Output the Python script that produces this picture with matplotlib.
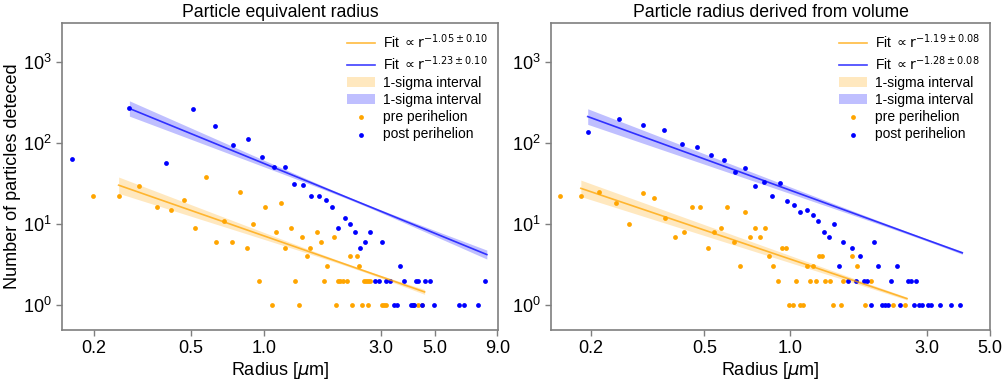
import numpy as np
import matplotlib
matplotlib.use("Agg")
import matplotlib.pyplot as plt
from matplotlib.ticker import FixedLocator, FixedFormatter, NullLocator, LogLocator

plt.rcParams['font.family'] = ['Liberation Sans', 'DejaVu Sans']
plt.rcParams['mathtext.fontset'] = 'dejavusans'

# --- panel 1: equivalent radius ---
eq_pre_r = [0.199, 0.253, 0.307, 0.362, 0.416, 0.47, 0.522, 0.576, 0.631, 0.685, 0.738,
            0.793, 0.847, 0.902, 0.954, 1.01, 1.07, 1.12, 1.17, 1.22, 1.28, 1.33, 1.39,
            1.43, 1.49, 1.54, 1.65, 1.70, 1.76, 1.81, 1.92, 1.97, 2.01, 2.05, 2.09, 2.19,
            2.24, 2.29, 2.40, 2.45, 2.50, 2.55, 2.60, 2.65, 2.66, 2.72, 3.02, 3.08, 3.14,
            4.05, 4.24, 4.44]
eq_pre_n = [22, 22, 29, 16, 15, 20, 9, 38, 6, 11, 6,
            25, 5, 10, 2, 16, 1, 8, 18, 5, 9, 2, 1,
            7, 4, 5, 8, 6, 2, 3, 7, 1, 2, 2, 2, 2,
            4, 1, 4, 3, 1, 2, 2, 2, 1, 2, 1, 1, 1,
            1, 1, 1]
eq_post_r = [0.163, 0.28, 0.397, 0.512, 0.627, 0.745, 0.86, 0.975, 1.095, 1.21, 1.32,
             1.44, 1.55, 1.67, 1.79, 1.90, 2.01, 2.13, 2.24, 2.36, 2.47, 2.58, 2.70,
             2.83, 2.95, 3.04, 3.16, 3.28, 3.39, 3.50, 3.61, 3.74, 3.97, 4.05, 4.11,
             4.19, 4.26, 4.43, 4.53, 4.76, 4.97, 6.25, 6.59, 7.47, 8.03]
eq_post_n = [63, 265, 57, 260, 159, 94, 110, 67, 50, 50, 31,
             30, 22, 22, 20, 16, 9, 12, 10, 8, 5, 6, 8,
             2, 2, 6, 2, 2, 1, 1, 3, 2, 1, 1, 1,
             2, 2, 1, 2, 2, 1, 1, 1, 1, 2]

# --- panel 2: radius from volume ---
vol_pre_r = [0.156, 0.185, 0.214, 0.244, 0.273, 0.305, 0.334, 0.364, 0.394, 0.424, 0.453,
             0.483, 0.514, 0.542, 0.573, 0.602, 0.632, 0.664, 0.692, 0.723, 0.753, 0.784,
             0.813, 0.842, 0.872, 0.903, 0.932, 0.963, 0.99, 1.02, 1.05, 1.08, 1.11, 1.14,
             1.17, 1.20, 1.23, 1.26, 1.29, 1.32, 1.38, 1.41, 1.50, 1.53, 1.65, 1.71, 1.83,
             1.92, 2.29, 2.52]
vol_pre_n = [22, 22, 25, 18, 10, 24, 21, 12, 7, 8, 16,
             16, 5, 8, 9, 16, 6, 3, 14, 7, 9, 7,
             9, 4, 3, 2, 5, 5, 1, 1, 2, 1, 1, 3,
             2, 3, 2, 4, 4, 2, 2, 1, 1, 2, 4, 3, 1,
             2, 1, 1]
vol_post_r = [0.195, 0.25, 0.305, 0.36, 0.417, 0.472, 0.528, 0.583, 0.639, 0.695, 0.75,
              0.805, 0.86, 0.918, 0.974, 1.03, 1.08, 1.14, 1.20, 1.25, 1.31, 1.37, 1.42,
              1.48, 1.53, 1.59, 1.64, 1.70, 1.75, 1.81, 1.86, 1.92, 1.97, 2.03, 2.09,
              2.14, 2.20, 2.26, 2.37, 2.42, 2.59, 2.64, 2.71, 2.76, 2.82, 2.89, 3.04,
              3.10, 3.33, 3.66, 3.94]
vol_post_n = [137, 194, 168, 143, 96, 89, 71, 62, 44, 49, 29,
              33, 22, 32, 19, 17, 14, 15, 13, 11, 8, 7, 10,
              3, 6, 2, 5, 2, 4, 2, 2, 1, 6, 3, 1,
              1, 1, 2, 3, 1, 2, 2, 1, 2, 1, 1, 1,
              1, 1, 1, 1]

# power-law fits: amplitude at r=1, exponent, sigma, fitted range, band pivot
fit_eq_pre = dict(amp=7.1, exp=1.05, sig=0.10, rmin=0.253, rmax=4.53, piv=2.5)
fit_eq_post = dict(amp=55.4, exp=1.23, sig=0.10, rmin=0.28, rmax=8.15, piv=2.4)
fit_vol_pre = dict(amp=3.68, exp=1.19, sig=0.08, rmin=0.1845, rmax=2.56, piv=3.3)
fit_vol_post = dict(amp=26.0, exp=1.28, sig=0.08, rmin=0.195, rmax=4.0, piv=3.0)

xticks_eq = [0.2, 0.5, 1.0, 3.0, 5.0, 9.0]
xticks_vol = [0.2, 0.5, 1.0, 3.0, 5.0]

ORANGE = 'orange'
BLUE = 'blue'
SPINE = '#7f7f7f'


def draw_fit(ax, fit, color):
    r = np.logspace(np.log10(fit['rmin']), np.log10(fit['rmax']), 200)
    n = fit['amp'] * r ** (-fit['exp'])
    half = np.sqrt((fit['sig'] * np.log10(r / fit['piv'])) ** 2 + 0.015 ** 2)
    label = r'Fit $\propto \mathrm{r}^{-%.2f \pm %.2f}$' % (fit['exp'], fit['sig'])
    ax.plot(r, n, color=color, lw=1.2, alpha=0.75, label=label)
    return r, n * 10 ** (-half), n * 10 ** half


def panel(ax, title, pre_r, pre_n, post_r, post_n, fit_pre, fit_post, xlim, xticks):
    r1, lo1, hi1 = draw_fit(ax, fit_pre, ORANGE)
    r2, lo2, hi2 = draw_fit(ax, fit_post, BLUE)
    ax.fill_between(r1, lo1, hi1, color=ORANGE, alpha=0.25, lw=0, label='1-sigma interval')
    ax.fill_between(r2, lo2, hi2, color=BLUE, alpha=0.25, lw=0, label='1-sigma interval')
    ax.scatter(pre_r, pre_n, s=12, color=ORANGE, lw=0, label='pre perihelion')
    ax.scatter(post_r, post_n, s=12, color=BLUE, lw=0, label='post perihelion')

    ax.set_xscale('log')
    ax.set_yscale('log')
    ax.set_xlim(*xlim)
    ax.set_ylim(0.5, 3000)
    ax.xaxis.set_major_locator(FixedLocator(xticks))
    ax.xaxis.set_major_formatter(FixedFormatter(['%.1f' % t for t in xticks]))
    ax.xaxis.set_minor_locator(NullLocator())
    ax.yaxis.set_major_locator(LogLocator(base=10, numticks=10))
    ax.yaxis.set_minor_locator(NullLocator())
    ax.tick_params(labelsize=13, color=SPINE, length=4, width=1)
    for s in ax.spines.values():
        s.set_color(SPINE)
        s.set_linewidth(1.2)
    ax.set_title(title, fontsize=12.7, pad=4)
    ax.set_xlabel(r'Radius [$\mu$m]', fontsize=13, labelpad=2)
    ax.legend(loc='upper right', frameon=False, fontsize=10, labelspacing=0.22,
              borderaxespad=0.3, handletextpad=0.6)


fig = plt.figure(figsize=(10.08, 3.82), dpi=100)
ax1 = fig.add_axes([0.062, 0.1374, 0.432, 0.8024])
ax2 = fig.add_axes([0.5466, 0.1374, 0.4355, 0.8024])

panel(ax1, 'Particle equivalent radius', eq_pre_r, eq_pre_n, eq_post_r, eq_post_n,
      fit_eq_pre, fit_eq_post, (0.149, 9.05), xticks_eq)
panel(ax2, 'Particle radius derived from volume', vol_pre_r, vol_pre_n, vol_post_r, vol_post_n,
      fit_vol_pre, fit_vol_post, (0.145, 5.0), xticks_vol)
ax1.set_ylabel('Number of particles deteced', fontsize=13, labelpad=2)

fig.savefig('out.png', dpi=100)
